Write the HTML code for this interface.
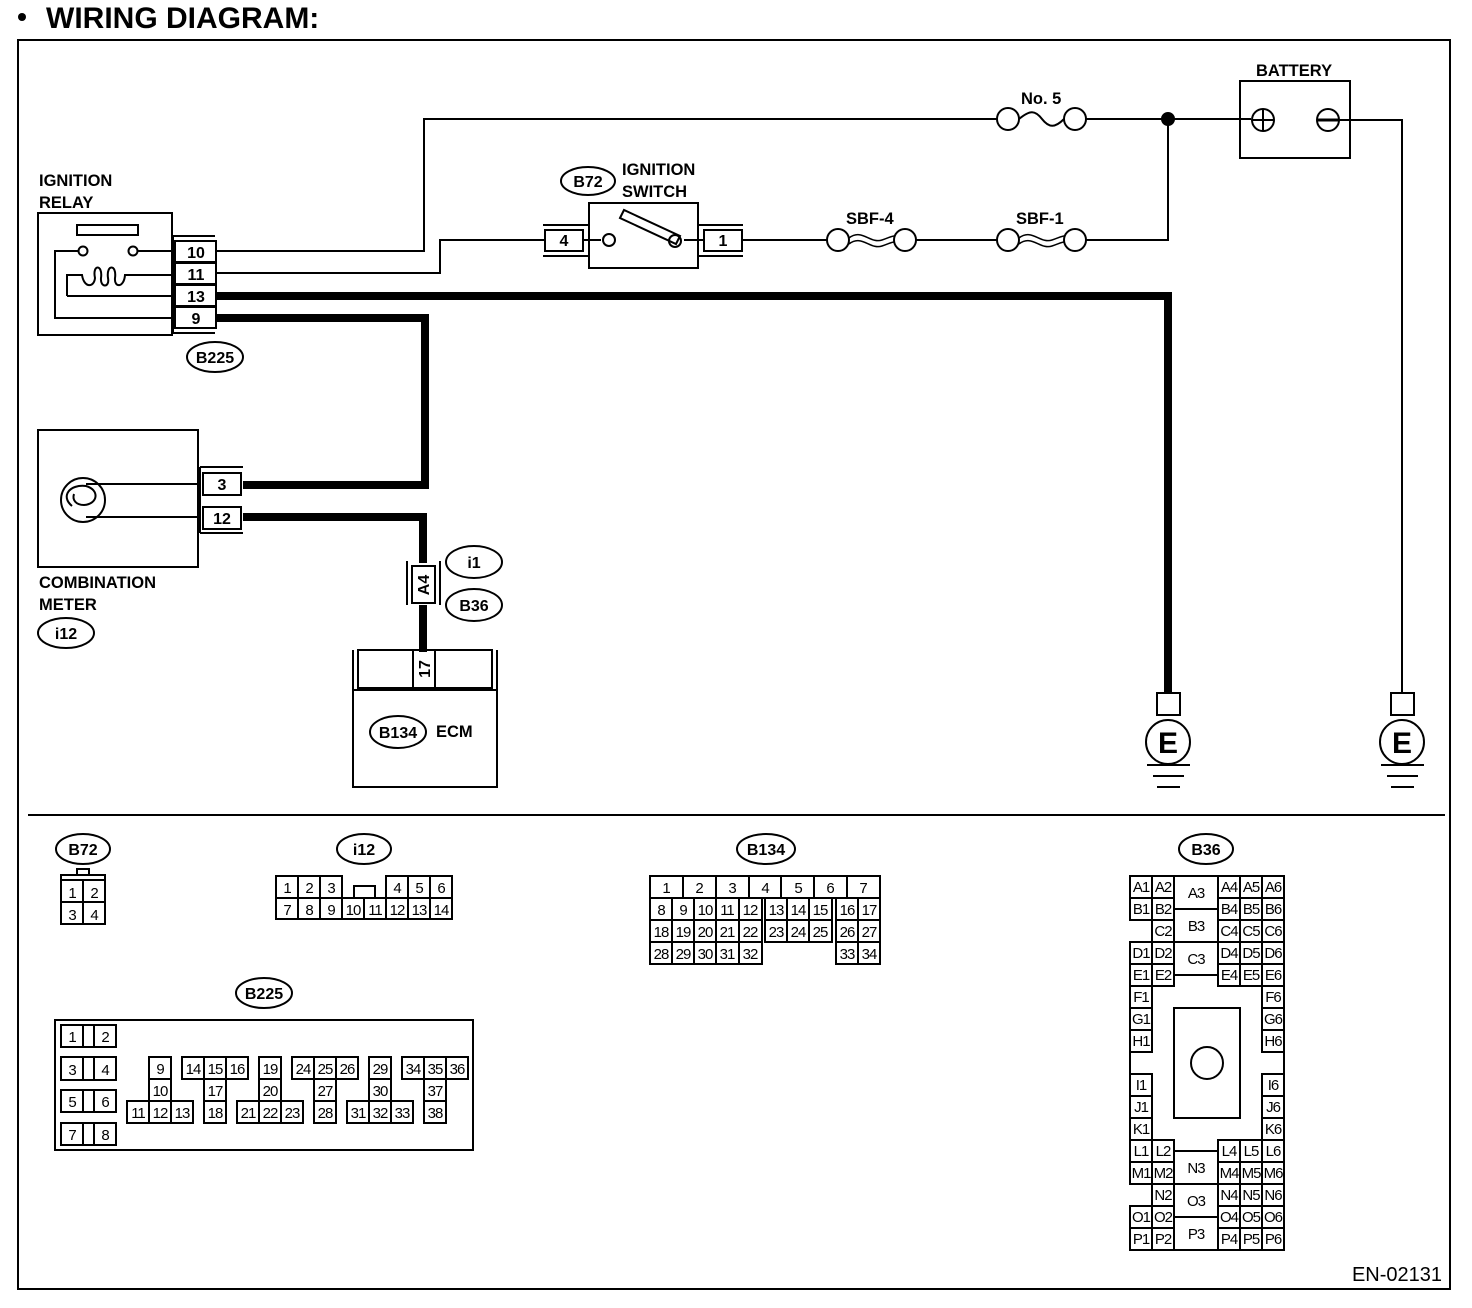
<!DOCTYPE html>
<html><head><meta charset="utf-8"><style>
html,body{margin:0;padding:0;background:#fff}
svg{display:block}
text{font-family:"Liberation Sans",sans-serif;fill:#000}
.b{font-weight:bold;font-size:16.5px}
.p{font-weight:bold;font-size:16px;text-anchor:middle}
.c{font-size:15px;text-anchor:middle;letter-spacing:-1px}
</style></head><body>
<svg width="1472" height="1308" viewBox="0 0 1472 1308" xmlns="http://www.w3.org/2000/svg" fill="none" stroke="#000" stroke-width="2">
<!-- title -->
<circle cx="22" cy="17" r="4" fill="#000" stroke="none"/>
<text x="46" y="28" style="font-weight:bold;font-size:30px" stroke="none">WIRING DIAGRAM:</text>
<rect x="18" y="40" width="1432" height="1249"/>
<line x1="28" y1="815" x2="1445" y2="815"/>

<!-- IGNITION RELAY -->
<text class="b" x="39" y="186" stroke="none">IGNITION</text>
<text class="b" x="39" y="208" stroke="none">RELAY</text>
<rect x="38" y="213" width="134" height="122"/>
<rect x="77" y="225" width="61" height="10"/>
<circle cx="83" cy="251" r="4.5"/><circle cx="133" cy="251" r="4.5"/>
<polyline points="78,251 55,251 55,318 172,318"/>
<polyline points="138,251 172,251"/>
<path d="M67,296 L67,275 L82,275 C84,288 94,288 95,278 C92,264 103,264 101,278 C100,288 110,288 108,278 C106,264 117,264 115,278 C114,288 124,288 125,275 L172,275 M67,296 L172,296"/>
<polyline points="173,236 215,236"/><polyline points="173,333 215,333"/><line x1="173" y1="236" x2="173" y2="333"/>
<rect x="175" y="241" width="41" height="21"/><rect x="175" y="263" width="41" height="21"/>
<rect x="175" y="285" width="41" height="21"/><rect x="175" y="307" width="41" height="21"/>
<text class="p" x="196" y="258" stroke="none">10</text><text class="p" x="196" y="280" stroke="none">11</text>
<text class="p" x="196" y="302" stroke="none">13</text><text class="p" x="196" y="324" stroke="none">9</text>
<ellipse cx="215" cy="357" rx="28" ry="15"/><text class="p" x="215" y="363" stroke="none">B225</text>

<!-- thin wires -->
<polyline points="216,251 424,251 424,119 998,119"/>
<path d="M1019,119 C1030,110 1035,110 1042,119 C1049,128 1055,128 1064,119"/>
<circle cx="1008" cy="119" r="11"/><circle cx="1075" cy="119" r="11"/>
<polyline points="1086,119 1251,119"/>
<circle cx="1168" cy="119" r="6" fill="#000"/>
<polyline points="1168,119 1168,240 1086,240"/>
<circle cx="1008" cy="240" r="11"/><circle cx="1075" cy="240" r="11"/>
<path d="M1019,238 C1032,228 1040,244 1052,240 C1058,238 1062,236 1064,236 M1019,244 C1032,234 1040,250 1052,246 C1058,244 1062,242 1064,242" stroke-width="1.5"/>
<line x1="916" y1="240" x2="997" y2="240"/>
<circle cx="838" cy="240" r="11"/><circle cx="905" cy="240" r="11"/>
<path d="M849,238 C862,228 870,244 882,240 C888,238 892,236 894,236 M849,244 C862,234 870,250 882,246 C888,244 892,242 894,242" stroke-width="1.5"/>
<line x1="743" y1="240" x2="827" y2="240"/>
<polyline points="216,273 440,273 440,240 545,240"/>
<!-- battery -->
<text class="b" x="1256" y="76" stroke="none">BATTERY</text>
<rect x="1240" y="81" width="110" height="77"/>
<circle cx="1263" cy="120" r="11"/><line x1="1263" y1="110" x2="1263" y2="130"/><line x1="1253" y1="120" x2="1273" y2="120"/>
<circle cx="1328" cy="120" r="11"/><line x1="1318" y1="120" x2="1338" y2="120" stroke-width="3"/>
<polyline points="1339,120 1402,120 1402,693"/>
<text class="b" x="1021" y="104" stroke="none">No. 5</text>
<text class="b" x="1016" y="224" stroke="none">SBF-1</text>
<text class="b" x="846" y="224" stroke="none">SBF-4</text>

<!-- ignition switch -->
<ellipse cx="588" cy="181" rx="27" ry="14"/><text class="p" x="588" y="187" stroke="none">B72</text>
<text class="b" x="622" y="175" stroke="none">IGNITION</text>
<text class="b" x="622" y="197" stroke="none">SWITCH</text>
<rect x="589" y="203" width="109" height="65"/>
<line x1="543" y1="225" x2="588" y2="225"/><line x1="543" y1="256" x2="588" y2="256"/>
<rect x="545" y="230" width="38" height="21"/><text class="p" x="564" y="246" stroke="none">4</text>
<line x1="699" y1="225" x2="743" y2="225"/><line x1="699" y1="256" x2="743" y2="256"/>
<rect x="704" y="230" width="38" height="21"/><text class="p" x="723" y="246" stroke="none">1</text>
<line x1="583" y1="240" x2="601" y2="240"/><circle cx="609" cy="240" r="6"/>
<line x1="684" y1="240" x2="704" y2="240"/><circle cx="675" cy="241" r="6"/>
<polygon points="620,218 624,210 680,236 676,244"/>

<!-- thick wires -->
<polyline points="216,296 1168,296 1168,693" stroke-width="8"/>
<polyline points="216,318 425,318 425,485 243,485" stroke-width="8"/>
<polyline points="243,517 423,517 423,563" stroke-width="8"/>
<line x1="423" y1="605" x2="423" y2="652" stroke-width="8"/>

<!-- combination meter -->
<rect x="38" y="430" width="160" height="137"/>
<circle cx="83" cy="500" r="22"/><path d="M72,506 C60,496 70,484 86,486 C100,490 98,504 84,505 C76,505 72,500 74,494"/>
<line x1="86" y1="484" x2="200" y2="484"/><line x1="86" y1="517" x2="200" y2="517"/>
<line x1="200" y1="467" x2="243" y2="467"/><line x1="200" y1="533" x2="243" y2="533"/><line x1="200" y1="467" x2="200" y2="533"/>
<rect x="203" y="473" width="38" height="22"/><rect x="203" y="507" width="38" height="22"/>
<text class="p" x="222" y="490" stroke="none">3</text><text class="p" x="222" y="524" stroke="none">12</text>
<text class="b" x="39" y="588" stroke="none">COMBINATION</text>
<text class="b" x="39" y="610" stroke="none">METER</text>
<ellipse cx="66" cy="633" rx="28" ry="15"/><text class="p" x="66" y="639" stroke="none">i12</text>

<!-- A4 -->
<line x1="407" y1="561" x2="407" y2="605"/><line x1="440" y1="561" x2="440" y2="605"/>
<rect x="412" y="566" width="23" height="37"/>
<text class="p" transform="translate(429,585) rotate(-90)" x="0" y="0" stroke="none">A4</text>
<ellipse cx="474" cy="562" rx="28" ry="16"/><text class="p" x="474" y="568" stroke="none">i1</text>
<ellipse cx="474" cy="605" rx="28" ry="16"/><text class="p" x="474" y="611" stroke="none">B36</text>

<!-- ECM -->
<polyline points="353,650 353,787 497,787 497,650"/>
<rect x="358" y="650" width="134" height="38"/>
<line x1="353" y1="690" x2="497" y2="690"/>
<rect x="413" y="650" width="22" height="38"/>
<text class="p" transform="translate(430,669) rotate(-90)" x="0" y="0" stroke="none">17</text>
<ellipse cx="398" cy="732" rx="28" ry="16"/><text class="p" x="398" y="738" stroke="none">B134</text>
<text class="b" x="436" y="737" stroke="none">ECM</text>

<!-- grounds -->
<g>
<rect x="1157" y="693" width="23" height="22"/>
<circle cx="1168" cy="742" r="22"/>
<text x="1168" y="753" style="font-weight:bold;font-size:30px;text-anchor:middle" stroke="none">E</text>
<line x1="1147" y1="765" x2="1190" y2="765"/><line x1="1153" y1="776" x2="1184" y2="776"/><line x1="1157" y1="787" x2="1180" y2="787"/>
</g>
<g>
<rect x="1391" y="693" width="23" height="22"/>
<circle cx="1402" cy="742" r="22"/>
<text x="1402" y="753" style="font-weight:bold;font-size:30px;text-anchor:middle" stroke="none">E</text>
<line x1="1381" y1="765" x2="1424" y2="765"/><line x1="1387" y1="776" x2="1418" y2="776"/><line x1="1391" y1="787" x2="1414" y2="787"/>
</g>

<!-- B72 connector -->
<ellipse cx="83" cy="849" rx="27" ry="15"/><text class="p" x="83" y="855" stroke="none">B72</text>
<rect x="77" y="869" width="12" height="6"/>
<rect x="61" y="875" width="44" height="49"/><line x1="61" y1="880" x2="105" y2="880"/>
<line x1="61" y1="902" x2="105" y2="902"/><line x1="83" y1="880" x2="83" y2="924"/>
<text class="c" x="72" y="898" stroke="none">1</text><text class="c" x="94" y="898" stroke="none">2</text>
<text class="c" x="72" y="920" stroke="none">3</text><text class="c" x="94" y="920" stroke="none">4</text>

<!-- i12 connector -->
<ellipse cx="364" cy="849" rx="27" ry="15"/><text class="p" x="364" y="855" stroke="none">i12</text>
<g>
<rect x="276" y="876" width="22" height="22"/><rect x="298" y="876" width="22" height="22"/><rect x="320" y="876" width="22" height="22"/>
<rect x="386" y="876" width="22" height="22"/><rect x="408" y="876" width="22" height="22"/><rect x="430" y="876" width="22" height="22"/>
<rect x="354" y="886" width="21" height="12"/>
<rect x="276" y="898" width="22" height="21"/><rect x="298" y="898" width="22" height="21"/><rect x="320" y="898" width="22" height="21"/><rect x="342" y="898" width="22" height="21"/>
<rect x="364" y="898" width="22" height="21"/><rect x="386" y="898" width="22" height="21"/><rect x="408" y="898" width="22" height="21"/><rect x="430" y="898" width="22" height="21"/>
</g>
<g stroke="none">
<text class="c" x="287" y="893">1</text><text class="c" x="309" y="893">2</text><text class="c" x="331" y="893">3</text>
<text class="c" x="397" y="893">4</text><text class="c" x="419" y="893">5</text><text class="c" x="441" y="893">6</text>
<text class="c" x="287" y="915">7</text><text class="c" x="309" y="915">8</text><text class="c" x="331" y="915">9</text><text class="c" x="353" y="915">10</text>
<text class="c" x="375" y="915">11</text><text class="c" x="397" y="915">12</text><text class="c" x="419" y="915">13</text><text class="c" x="441" y="915">14</text>
</g>

<!-- B134 connector -->
<ellipse cx="766" cy="849" rx="29" ry="15"/><text class="p" x="766" y="855" stroke="none">B134</text>
<g>
<rect x="650" y="876" width="230" height="22"/>
<line x1="683" y1="876" x2="683" y2="898"/><line x1="716" y1="876" x2="716" y2="898"/><line x1="749" y1="876" x2="749" y2="898"/>
<line x1="781" y1="876" x2="781" y2="898"/><line x1="814" y1="876" x2="814" y2="898"/><line x1="847" y1="876" x2="847" y2="898"/>
<rect x="650" y="898" width="112" height="66"/>
<line x1="672" y1="898" x2="672" y2="964"/><line x1="694" y1="898" x2="694" y2="964"/><line x1="716" y1="898" x2="716" y2="964"/><line x1="739" y1="898" x2="739" y2="964"/>
<line x1="650" y1="920" x2="762" y2="920"/><line x1="650" y1="942" x2="762" y2="942"/>
<rect x="765" y="898" width="67" height="44"/>
<line x1="787" y1="898" x2="787" y2="942"/><line x1="809" y1="898" x2="809" y2="942"/><line x1="765" y1="920" x2="832" y2="920"/>
<rect x="836" y="898" width="44" height="66"/>
<line x1="858" y1="898" x2="858" y2="964"/><line x1="836" y1="920" x2="880" y2="920"/><line x1="836" y1="942" x2="880" y2="942"/>
</g>
<g stroke="none">
<text class="c" x="666" y="893">1</text><text class="c" x="699" y="893">2</text><text class="c" x="732" y="893">3</text><text class="c" x="765" y="893">4</text>
<text class="c" x="798" y="893">5</text><text class="c" x="830" y="893">6</text><text class="c" x="863" y="893">7</text>
<text class="c" x="661" y="915">8</text><text class="c" x="683" y="915">9</text><text class="c" x="705" y="915">10</text><text class="c" x="727" y="915">11</text><text class="c" x="750" y="915">12</text>
<text class="c" x="776" y="915">13</text><text class="c" x="798" y="915">14</text><text class="c" x="820" y="915">15</text>
<text class="c" x="847" y="915">16</text><text class="c" x="869" y="915">17</text>
<text class="c" x="661" y="937">18</text><text class="c" x="683" y="937">19</text><text class="c" x="705" y="937">20</text><text class="c" x="727" y="937">21</text><text class="c" x="750" y="937">22</text>
<text class="c" x="776" y="937">23</text><text class="c" x="798" y="937">24</text><text class="c" x="820" y="937">25</text>
<text class="c" x="847" y="937">26</text><text class="c" x="869" y="937">27</text>
<text class="c" x="661" y="959">28</text><text class="c" x="683" y="959">29</text><text class="c" x="705" y="959">30</text><text class="c" x="727" y="959">31</text><text class="c" x="750" y="959">32</text>
<text class="c" x="847" y="959">33</text><text class="c" x="869" y="959">34</text>
</g>

<!-- B225 connector -->
<ellipse cx="264" cy="993" rx="28" ry="15"/><text class="p" x="264" y="999" stroke="none">B225</text>
<rect x="55" y="1020" width="418" height="130"/>
<g>
<rect x="61" y="1025" width="55" height="22"/><line x1="83" y1="1025" x2="83" y2="1047"/><line x1="94" y1="1025" x2="94" y2="1047"/>
<rect x="61" y="1057" width="55" height="23"/><line x1="83" y1="1057" x2="83" y2="1080"/><line x1="94" y1="1057" x2="94" y2="1080"/>
<rect x="61" y="1090" width="55" height="22"/><line x1="83" y1="1090" x2="83" y2="1112"/><line x1="94" y1="1090" x2="94" y2="1112"/>
<rect x="61" y="1123" width="55" height="22"/><line x1="83" y1="1123" x2="83" y2="1145"/><line x1="94" y1="1123" x2="94" y2="1145"/>
<rect x="149" y="1057" width="22" height="22"/><rect x="149" y="1079" width="22" height="22"/>
<rect x="127" y="1101" width="22" height="22"/><rect x="149" y="1101" width="22" height="22"/><rect x="171" y="1101" width="22" height="22"/>
<rect x="182" y="1057" width="22" height="22"/><rect x="204" y="1057" width="22" height="22"/><rect x="226" y="1057" width="22" height="22"/>
<rect x="204" y="1079" width="22" height="22"/><rect x="204" y="1101" width="22" height="22"/>
<rect x="259" y="1057" width="22" height="22"/><rect x="259" y="1079" width="22" height="22"/>
<rect x="237" y="1101" width="22" height="22"/><rect x="259" y="1101" width="22" height="22"/><rect x="281" y="1101" width="22" height="22"/>
<rect x="292" y="1057" width="22" height="22"/><rect x="314" y="1057" width="22" height="22"/><rect x="336" y="1057" width="22" height="22"/>
<rect x="314" y="1079" width="22" height="22"/><rect x="314" y="1101" width="22" height="22"/>
<rect x="369" y="1057" width="22" height="22"/><rect x="369" y="1079" width="22" height="22"/>
<rect x="347" y="1101" width="22" height="22"/><rect x="369" y="1101" width="22" height="22"/><rect x="391" y="1101" width="22" height="22"/>
<rect x="402" y="1057" width="22" height="22"/><rect x="424" y="1057" width="22" height="22"/><rect x="446" y="1057" width="22" height="22"/>
<rect x="424" y="1079" width="22" height="22"/><rect x="424" y="1101" width="22" height="22"/>
</g>
<g stroke="none">
<text class="c" x="72" y="1042">1</text><text class="c" x="105" y="1042">2</text>
<text class="c" x="72" y="1075">3</text><text class="c" x="105" y="1075">4</text>
<text class="c" x="72" y="1107">5</text><text class="c" x="105" y="1107">6</text>
<text class="c" x="72" y="1140">7</text><text class="c" x="105" y="1140">8</text>
<text class="c" x="160" y="1074">9</text><text class="c" x="160" y="1096">10</text>
<text class="c" x="138" y="1118">11</text><text class="c" x="160" y="1118">12</text><text class="c" x="182" y="1118">13</text>
<text class="c" x="193" y="1074">14</text><text class="c" x="215" y="1074">15</text><text class="c" x="237" y="1074">16</text>
<text class="c" x="215" y="1096">17</text><text class="c" x="215" y="1118">18</text>
<text class="c" x="270" y="1074">19</text><text class="c" x="270" y="1096">20</text>
<text class="c" x="248" y="1118">21</text><text class="c" x="270" y="1118">22</text><text class="c" x="292" y="1118">23</text>
<text class="c" x="303" y="1074">24</text><text class="c" x="325" y="1074">25</text><text class="c" x="347" y="1074">26</text>
<text class="c" x="325" y="1096">27</text><text class="c" x="325" y="1118">28</text>
<text class="c" x="380" y="1074">29</text><text class="c" x="380" y="1096">30</text>
<text class="c" x="358" y="1118">31</text><text class="c" x="380" y="1118">32</text><text class="c" x="402" y="1118">33</text>
<text class="c" x="413" y="1074">34</text><text class="c" x="435" y="1074">35</text><text class="c" x="457" y="1074">36</text>
<text class="c" x="435" y="1096">37</text><text class="c" x="435" y="1118">38</text>
</g>

<!-- B36 connector -->
<ellipse cx="1206" cy="849" rx="27" ry="15"/><text class="p" x="1206" y="855" stroke="none">B36</text>
<g>
<rect x="1130" y="876" width="22" height="44"/><line x1="1130" y1="898" x2="1152" y2="898"/>
<rect x="1130" y="942" width="22" height="110"/>
<line x1="1130" y1="964" x2="1152" y2="964"/><line x1="1130" y1="986" x2="1152" y2="986"/><line x1="1130" y1="1008" x2="1152" y2="1008"/><line x1="1130" y1="1030" x2="1152" y2="1030"/>
<rect x="1130" y="1074" width="22" height="110"/>
<line x1="1130" y1="1096" x2="1152" y2="1096"/><line x1="1130" y1="1118" x2="1152" y2="1118"/><line x1="1130" y1="1140" x2="1152" y2="1140"/><line x1="1130" y1="1162" x2="1152" y2="1162"/>
<line x1="1130" y1="1052" x2="1130" y2="1074"/>
<rect x="1130" y="1206" width="22" height="44"/><line x1="1130" y1="1228" x2="1152" y2="1228"/>
<rect x="1152" y="876" width="22" height="110"/>
<line x1="1152" y1="898" x2="1174" y2="898"/><line x1="1152" y1="920" x2="1174" y2="920"/><line x1="1152" y1="942" x2="1174" y2="942"/><line x1="1152" y1="964" x2="1174" y2="964"/>
<rect x="1152" y="1140" width="22" height="110"/>
<line x1="1152" y1="1162" x2="1174" y2="1162"/><line x1="1152" y1="1184" x2="1174" y2="1184"/><line x1="1152" y1="1206" x2="1174" y2="1206"/><line x1="1152" y1="1228" x2="1174" y2="1228"/>
<line x1="1174" y1="876" x2="1218" y2="876"/><line x1="1174" y1="909" x2="1218" y2="909"/><line x1="1174" y1="942" x2="1218" y2="942"/><line x1="1174" y1="975" x2="1218" y2="975"/>
<line x1="1174" y1="1151" x2="1218" y2="1151"/><line x1="1174" y1="1184" x2="1218" y2="1184"/><line x1="1174" y1="1217" x2="1218" y2="1217"/><line x1="1174" y1="1250" x2="1218" y2="1250"/>
<rect x="1218" y="876" width="66" height="110"/>
<line x1="1240" y1="876" x2="1240" y2="986"/><line x1="1262" y1="876" x2="1262" y2="986"/>
<line x1="1218" y1="898" x2="1284" y2="898"/><line x1="1218" y1="920" x2="1284" y2="920"/><line x1="1218" y1="942" x2="1284" y2="942"/><line x1="1218" y1="964" x2="1284" y2="964"/>
<rect x="1262" y="986" width="22" height="66"/><line x1="1262" y1="1008" x2="1284" y2="1008"/><line x1="1262" y1="1030" x2="1284" y2="1030"/>
<line x1="1284" y1="1052" x2="1284" y2="1074"/>
<rect x="1262" y="1074" width="22" height="66"/><line x1="1262" y1="1096" x2="1284" y2="1096"/><line x1="1262" y1="1118" x2="1284" y2="1118"/>
<rect x="1218" y="1140" width="66" height="110"/>
<line x1="1240" y1="1140" x2="1240" y2="1250"/><line x1="1262" y1="1140" x2="1262" y2="1250"/>
<line x1="1218" y1="1162" x2="1284" y2="1162"/><line x1="1218" y1="1184" x2="1284" y2="1184"/><line x1="1218" y1="1206" x2="1284" y2="1206"/><line x1="1218" y1="1228" x2="1284" y2="1228"/>
<rect x="1174" y="1008" width="66" height="110"/>
<circle cx="1207" cy="1063" r="16"/>
</g>
<g stroke="none">
<text class="c" x="1141" y="892">A1</text><text class="c" x="1163" y="892">A2</text><text class="c" x="1196" y="898">A3</text><text class="c" x="1229" y="892">A4</text><text class="c" x="1251" y="892">A5</text><text class="c" x="1273" y="892">A6</text>
<text class="c" x="1141" y="914">B1</text><text class="c" x="1163" y="914">B2</text><text class="c" x="1196" y="931">B3</text><text class="c" x="1229" y="914">B4</text><text class="c" x="1251" y="914">B5</text><text class="c" x="1273" y="914">B6</text>
<text class="c" x="1163" y="936">C2</text><text class="c" x="1229" y="936">C4</text><text class="c" x="1251" y="936">C5</text><text class="c" x="1273" y="936">C6</text>
<text class="c" x="1141" y="958">D1</text><text class="c" x="1163" y="958">D2</text><text class="c" x="1196" y="964">C3</text><text class="c" x="1229" y="958">D4</text><text class="c" x="1251" y="958">D5</text><text class="c" x="1273" y="958">D6</text>
<text class="c" x="1141" y="980">E1</text><text class="c" x="1163" y="980">E2</text><text class="c" x="1229" y="980">E4</text><text class="c" x="1251" y="980">E5</text><text class="c" x="1273" y="980">E6</text>
<text class="c" x="1141" y="1002">F1</text><text class="c" x="1273" y="1002">F6</text>
<text class="c" x="1141" y="1024">G1</text><text class="c" x="1273" y="1024">G6</text>
<text class="c" x="1141" y="1046">H1</text><text class="c" x="1273" y="1046">H6</text>
<text class="c" x="1141" y="1090">I1</text><text class="c" x="1273" y="1090">I6</text>
<text class="c" x="1141" y="1112">J1</text><text class="c" x="1273" y="1112">J6</text>
<text class="c" x="1141" y="1134">K1</text><text class="c" x="1273" y="1134">K6</text>
<text class="c" x="1141" y="1156">L1</text><text class="c" x="1163" y="1156">L2</text><text class="c" x="1229" y="1156">L4</text><text class="c" x="1251" y="1156">L5</text><text class="c" x="1273" y="1156">L6</text>
<text class="c" x="1141" y="1178">M1</text><text class="c" x="1163" y="1178">M2</text><text class="c" x="1196" y="1173">N3</text><text class="c" x="1229" y="1178">M4</text><text class="c" x="1251" y="1178">M5</text><text class="c" x="1273" y="1178">M6</text>
<text class="c" x="1163" y="1200">N2</text><text class="c" x="1196" y="1206">O3</text><text class="c" x="1229" y="1200">N4</text><text class="c" x="1251" y="1200">N5</text><text class="c" x="1273" y="1200">N6</text>
<text class="c" x="1141" y="1222">O1</text><text class="c" x="1163" y="1222">O2</text><text class="c" x="1229" y="1222">O4</text><text class="c" x="1251" y="1222">O5</text><text class="c" x="1273" y="1222">O6</text>
<text class="c" x="1141" y="1244">P1</text><text class="c" x="1163" y="1244">P2</text><text class="c" x="1196" y="1239">P3</text><text class="c" x="1229" y="1244">P4</text><text class="c" x="1251" y="1244">P5</text><text class="c" x="1273" y="1244">P6</text>
</g>

<text x="1442" y="1281" style="font-size:20px;text-anchor:end" stroke="none">EN-02131</text>
</svg>
</body></html>
